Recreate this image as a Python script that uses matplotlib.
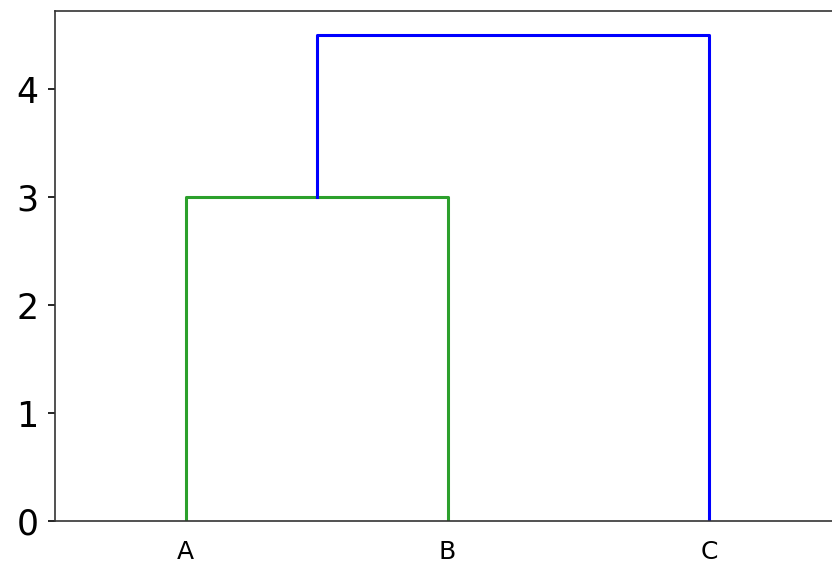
import matplotlib
matplotlib.use("Agg")
import matplotlib.pyplot as plt

# dendrogram links (scipy style coordinates: leaves at 5, 15, 25)
leaf_labels = ["A", "B", "C"]
link_x = [[5, 5, 15, 15], [10, 10, 25, 25]]
link_y = [[0.0, 3.0, 3.0, 0.0], [3.0, 4.5, 4.5, 0.0]]
link_colors = ["#2ca02c", "b"]

fig = plt.figure(figsize=(8.32, 5.66), dpi=100)
ax = fig.add_axes([55 / 832, 45 / 566, 785 / 832, 510 / 566])

for xs, ys, c in zip(link_x, link_y, link_colors):
    ax.plot(xs, ys, color=c, linewidth=2.2)

ax.set_xlim(0, 30)
ax.set_ylim(0, 4.5 * 1.05)
ax.set_xticks([5, 15, 25])
ax.set_xticklabels(leaf_labels, fontsize=18)
ax.set_yticks([0, 1, 2, 3, 4])
ax.tick_params(axis="y", labelsize=25, length=5, width=1.2, pad=7)
ax.tick_params(axis="x", length=0, pad=14)
for s in ax.spines.values():
    s.set_linewidth(1.2)
    s.set_color("#333333")

fig.savefig("out.png", dpi=100)
